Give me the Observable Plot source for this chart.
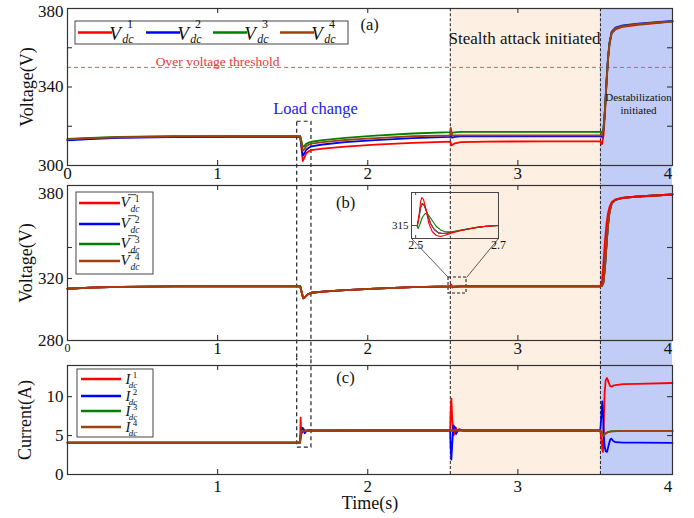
<!DOCTYPE html>
<html><head><meta charset="utf-8">
<script src="https://cdn.jsdelivr.net/npm/d3@7"></script>
<script src="https://cdn.jsdelivr.net/npm/@observablehq/plot@0.6"></script>
<style>
body{margin:0;background:#fff}
#chart{position:relative;width:694px;height:518px;overflow:hidden;background:#fff}
#chart svg{display:block}
#chart svg, #chart svg text{font-family:"Liberation Serif","DejaVu Serif",serif !important}
</style></head><body><div id="chart"></div>
<script>
// ---------- data ----------
const seriesColors = ["#ff0000", "#0000ff", "#008000", "#a0400f"];
const seriesIdx = ["1", "2", "3", "4"];
const xTicks = [0, 1, 2, 3, 4];
const tAttack = 2.55, tDestab = 3.55, tEnd = 4.03;
const loadBox = [1.53, 1.625];
const threshold = 350;

// panel (a): V_dc^i  [time, voltage]
const aV1 = [[0,313.2],[0.15,313.8],[0.35,314.3],[0.7,314.6],[1.2,314.7],[1.55,314.7],[1.56,308],[1.567,302.3],[1.575,303.5],[1.59,306.2],[1.61,307.4],[1.625,307.8],[1.7,308.6],[1.85,309.6],[2.05,310.6],[2.3,311.5],[2.549,312.2],[2.553,311.5],[2.558,310.3],[2.565,310.6],[2.58,311.3],[2.62,311.9],[2.8,312.2],[3.2,312.3],[3.549,312.3],[3.56,310.8],[3.57,315],[3.58,326],[3.59,341],[3.6,353.5],[3.61,361.5],[3.625,367.3],[3.65,369.4],[3.7,370.7],[3.8,371.7],[4.03,373.3]];
const aV2 = [[0,312.8],[0.15,313.5],[0.35,314.1],[0.7,314.5],[1.2,314.6],[1.55,314.6],[1.56,309],[1.567,305],[1.575,305.8],[1.59,308],[1.61,309.2],[1.625,309.7],[1.7,310.7],[1.85,311.9],[2.05,312.9],[2.3,313.9],[2.549,314.6],[2.553,315.5],[2.558,314.3],[2.565,314.2],[2.58,314.6],[2.62,314.8],[2.8,314.9],[3.2,314.9],[3.549,314.9],[3.56,314.6],[3.57,318.2],[3.58,328.5],[3.59,342.5],[3.6,354.5],[3.61,362.5],[3.625,368.2],[3.65,370.2],[3.7,371.4],[3.8,372.3],[4.03,373.7]];
const aV3 = [[0,313.6],[0.15,314.1],[0.35,314.6],[0.7,314.9],[1.2,315.0],[1.55,315.0],[1.56,312],[1.567,309.5],[1.575,309.8],[1.59,311],[1.61,311.8],[1.625,312.1],[1.7,312.9],[1.85,314.1],[2.05,315.2],[2.3,316.3],[2.549,317.0],[2.553,317.6],[2.558,316.6],[2.565,316.7],[2.58,316.9],[2.62,317.1],[2.8,317.1],[3.2,317.1],[3.549,317.1],[3.56,316.8],[3.57,318.5],[3.58,328],[3.59,342],[3.6,354],[3.61,362],[3.625,367.8],[3.65,369.8],[3.7,371.0],[3.8,372.0],[4.03,373.4]];
const aV4 = [[0,313.3],[0.15,313.9],[0.35,314.4],[0.7,314.8],[1.2,314.9],[1.55,314.9],[1.56,310.5],[1.567,307.5],[1.575,308],[1.59,309.8],[1.61,310.7],[1.625,311.1],[1.7,311.9],[1.85,313],[2.05,314],[2.3,314.9],[2.549,315.4],[2.553,319.2],[2.558,316.8],[2.565,315.2],[2.58,315.3],[2.62,315.4],[2.8,315.4],[3.2,315.4],[3.549,315.4],[3.56,315.3],[3.57,318],[3.58,328],[3.59,342],[3.6,354],[3.61,362],[3.625,367.8],[3.65,369.8],[3.7,371.0],[3.8,372.0],[4.03,373.4]];

// panel (b): average voltage estimates
const bV1 = [[0,313.4],[0.15,314.1],[0.35,314.6],[0.7,314.9],[1.2,315.0],[1.55,315.0],[1.56,311],[1.57,307.2],[1.58,307.8],[1.6,309.8],[1.625,310.8],[1.7,311.5],[1.85,312.5],[2.05,313.5],[2.3,314.4],[2.549,314.9],[2.554,316.3],[2.565,314.2],[2.58,314.6],[2.62,314.9],[2.8,315.0],[3.2,315.0],[3.549,315.0],[3.56,318],[3.57,330],[3.58,344],[3.59,355],[3.6,362],[3.61,366],[3.625,369.3],[3.65,371],[3.7,372.1],[3.8,372.9],[4.03,374.2]];
const bV2 = [[0,313.4],[0.15,314.1],[0.35,314.6],[0.7,314.9],[1.2,315.0],[1.55,315.0],[1.56,311],[1.57,307.2],[1.58,307.8],[1.6,309.8],[1.625,310.8],[1.7,311.5],[1.85,312.5],[2.05,313.5],[2.3,314.4],[2.549,314.9],[2.554,315.4],[2.565,314.6],[2.58,314.7],[2.62,314.9],[2.8,315.0],[3.2,315.0],[3.549,315.0],[3.56,315.2],[3.57,317.5],[3.58,327],[3.59,341],[3.6,354],[3.61,362.5],[3.625,368.5],[3.65,370.8],[3.7,372.0],[3.8,372.9],[4.03,374.2]];
const bV3 = [[0,313.4],[0.15,314.1],[0.35,314.6],[0.7,314.9],[1.2,315.0],[1.55,315.0],[1.56,311],[1.57,307.2],[1.58,307.8],[1.6,309.8],[1.625,310.8],[1.7,311.5],[1.85,312.5],[2.05,313.5],[2.3,314.4],[2.549,314.9],[2.554,315.2],[2.565,314.7],[2.58,314.7],[2.62,314.9],[2.8,315.0],[3.2,315.0],[3.549,315.0],[3.56,315.2],[3.57,317.5],[3.58,327],[3.59,341],[3.6,354],[3.61,362.5],[3.625,368.5],[3.65,370.8],[3.7,372.0],[3.8,372.9],[4.03,374.2]];
const bV4 = [[0,313.4],[0.15,314.1],[0.35,314.6],[0.7,314.9],[1.2,315.0],[1.55,315.0],[1.56,311],[1.57,307.2],[1.58,307.8],[1.6,309.8],[1.625,310.8],[1.7,311.5],[1.85,312.5],[2.05,313.5],[2.3,314.4],[2.549,314.9],[2.554,315.4],[2.565,314.6],[2.58,314.7],[2.62,314.9],[2.8,315.0],[3.2,315.0],[3.549,315.0],[3.56,315.2],[3.57,317.5],[3.58,327],[3.59,341],[3.6,354],[3.61,362.5],[3.625,368.5],[3.65,370.8],[3.7,372.0],[3.8,372.9],[4.03,374.2]];

// inset of panel (b)
const inV1 = [[2.49,315.0],[2.504,315.0],[2.508,315.5],[2.512,316.2],[2.515,316.4],[2.519,316.3],[2.525,315.8],[2.532,315.1],[2.54,314.7],[2.55,314.5],[2.56,314.45],[2.57,314.5],[2.585,314.62],[2.61,314.75],[2.64,314.88],[2.67,314.96],[2.70,315.0]];
const inV2 = [[2.49,315.0],[2.504,315.0],[2.508,315.4],[2.512,315.9],[2.516,316.1],[2.521,316.0],[2.528,315.6],[2.536,315.1],[2.545,314.8],[2.555,314.63],[2.565,314.6],[2.575,314.62],[2.585,314.65],[2.61,314.76],[2.64,314.88],[2.67,314.96],[2.70,315.0]];
const inV3 = [[2.49,315.0],[2.503,315.0],[2.506,314.85],[2.51,315.05],[2.516,315.4],[2.523,315.6],[2.53,315.55],[2.54,315.25],[2.55,314.95],[2.56,314.78],[2.57,314.7],[2.585,314.67],[2.61,314.77],[2.64,314.88],[2.67,314.96],[2.70,315.0]];
const inV4 = [[2.49,315.0],[2.504,315.0],[2.508,315.4],[2.512,315.9],[2.516,316.1],[2.521,316.0],[2.528,315.6],[2.536,315.1],[2.545,314.8],[2.555,314.63],[2.565,314.6],[2.575,314.62],[2.585,314.65],[2.61,314.76],[2.64,314.88],[2.67,314.96],[2.70,315.0]];

// panel (c): currents
const cI1 = [[0,4.1],[1.549,4.1],[1.553,7.3],[1.557,5.0],[1.561,5.9],[1.566,5.4],[1.572,5.7],[1.6,5.65],[2.0,5.65],[2.549,5.65],[2.552,8.0],[2.557,9.75],[2.563,7.0],[2.57,5.0],[2.58,5.3],[2.588,6.0],[2.596,5.5],[2.61,5.8],[2.63,5.65],[3.549,5.65],[3.556,4.5],[3.562,3.3],[3.567,2.9],[3.572,6.5],[3.578,10.5],[3.585,12.1],[3.594,12.4],[3.605,11.8],[3.615,11.35],[3.628,11.3],[3.64,11.45],[3.7,11.6],[3.8,11.65],[4.03,11.75]];
const cI2 = [[0,4.1],[1.549,4.1],[1.553,4.8],[1.558,5.3],[1.566,6.0],[1.574,5.8],[1.58,5.3],[1.588,5.5],[1.6,5.7],[1.62,5.65],[2.549,5.65],[2.552,3.5],[2.557,1.9],[2.563,4.0],[2.57,6.3],[2.58,6.1],[2.588,5.2],[2.596,5.5],[2.61,5.8],[2.63,5.65],[3.549,5.65],[3.556,7.5],[3.562,9.4],[3.567,8.0],[3.572,5.0],[3.578,3.6],[3.585,3.0],[3.594,2.9],[3.605,3.8],[3.615,4.5],[3.622,4.6],[3.635,4.3],[3.65,4.15],[3.7,4.1],[3.8,4.1],[4.03,4.05]];
const cI3 = [[0,4.1],[1.549,4.1],[1.556,5.6],[2.0,5.65],[3.549,5.65],[3.56,5.3],[3.57,5.0],[3.58,5.2],[3.6,5.45],[3.62,5.55],[3.7,5.6],[4.03,5.6]];
const cI4 = [[0,4.1],[1.549,4.1],[1.556,5.6],[2.0,5.65],[3.549,5.65],[3.56,5.3],[3.57,5.0],[3.58,5.2],[3.6,5.45],[3.62,5.55],[3.7,5.6],[4.03,5.6]];

// annotation anchors (data units)
const insetBox = {t1: 2.2915, t2: 2.871, v1: 345.8, v2: 375.5};
const zoomBox = {t1: 2.538, t2: 2.658, v1: 310.3, v2: 320.6};

// ---------- drawing ----------
const FONT = '"Liberation Serif","DejaVu Serif",serif';
const W = 694, ML = 67, MR = 22;
const FW = W - ML - MR;
const PEACH = "#fdf0e2", BLUE = "#c1cdf6";
const svgStyle = {fontFamily: FONT, background: "transparent", overflow: "hidden", color: "#111"};

function spans(lo, hi) {
  return [
    Plot.rect([0], {x1: () => tAttack, x2: () => tDestab, y1: () => lo, y2: () => hi, fill: PEACH}),
    Plot.rect([0], {x1: () => tDestab, x2: () => tEnd, y1: () => lo, y2: () => hi, fill: BLUE}),
    Plot.ruleX([tAttack, tDestab], {x: d => d, y1: () => lo, y2: () => hi, stroke: "#222", strokeDasharray: "3,2", strokeWidth: 1})
  ];
}
function loadRect(lo, hi) {
  return Plot.rect([loadBox], {x1: d => d[0], x2: d => d[1], y1: () => lo, y2: () => hi, fill: "none", stroke: "#222", strokeDasharray: "4,3", strokeWidth: 1.2});
}
function seriesLines(list, w = 1.8) {
  return list.map((s, i) => Plot.line(s, {x: d => d[0], y: d => d[1], stroke: seriesColors[i], strokeWidth: w}));
}
function innerTicks(xs, ys, fh) {
  const o = {stroke: "#333", strokeWidth: 1.1};
  return [
    Plot.tickX(xs, {x: d => d, insetTop: fh - 5, ...o}),
    Plot.tickX(xs, {x: d => d, insetBottom: fh - 5, ...o}),
    Plot.tickY(ys, {y: d => d, insetRight: FW - 5, ...o}),
    Plot.tickY(ys, {y: d => d, insetLeft: FW - 5, ...o})
  ];
}
function yTitle(label, dx) {
  return Plot.text([label], {text: d => d, frameAnchor: "left", textAnchor: "middle", lineAnchor: "middle", dx, rotate: -90, fontSize: 18});
}
function yLabels(ticks, dy = 0) {
  return Plot.axisY({ticks, tickSize: 0, tickPadding: 4, fontSize: 17, label: null, dy, tickFormat: d => String(d)});
}
function mathLabel(g, x, y, o) {
  g.append("text").attr("x", x).attr("y", y).attr("font-family", FONT).attr("font-style", "italic")
    .attr("font-size", o.size).text(o.base);
  if (o.bar) g.append("line").attr("x1", x + o.size * 0.2).attr("x2", x + o.size * 0.75)
    .attr("y1", y - o.size * 0.82).attr("y2", y - o.size * 0.82).attr("stroke", "#111").attr("stroke-width", 0.8);
  g.append("text").attr("x", x + o.supDx).attr("y", y + o.supDy).attr("font-family", FONT)
    .attr("font-size", o.small).text(o.sup);
  g.append("text").attr("x", x + o.subDx).attr("y", y + o.subDy).attr("font-family", FONT).attr("font-style", "italic")
    .attr("font-size", o.small).text(o.sub);
}
function legendMark(box, items, lab) {
  return () => {
    const g = d3.create("svg:g");
    g.append("rect").attr("x", box.x).attr("y", box.y).attr("width", box.w).attr("height", box.h)
      .attr("fill", "white").attr("stroke", "#444").attr("stroke-width", 1);
    items.forEach((it, i) => {
      g.append("line").attr("x1", it.x1).attr("x2", it.x2).attr("y1", it.y).attr("y2", it.y)
        .attr("stroke", seriesColors[i]).attr("stroke-width", 2.6);
      mathLabel(g, it.lx, it.ly, {...lab, sup: seriesIdx[i]});
    });
    return g.node();
  };
}

// panel (a)
const hA = 184, mtA = 8, mbA = 19, fhA = hA - mtA - mbA;
const legA = legendMark({x: 75, y: 21, w: 273, h: 23},
  [78, 146, 213, 280].map(x => ({x1: x, x2: x + 34, y: 32.5, lx: x + 37, ly: 40})),
  {base: "V", sub: "dc", size: 19, small: 12, supDx: 15, supDy: -12, subDx: 13, subDy: 3});
const A = Plot.plot({
  width: W, height: hA, marginLeft: ML, marginRight: MR, marginTop: mtA, marginBottom: mbA,
  x: {domain: [0, tEnd]}, y: {domain: [300, 380]}, style: svgStyle,
  marks: [
    ...spans(200, 380),
    Plot.ruleY([threshold], {y: d => d, stroke: "#e2585c", strokeDasharray: "4,3", strokeWidth: 1}),
    loadRect(322.3, 200),
    ...seriesLines([aV1, aV2, aV3, aV4]),
    Plot.frame({stroke: "#333", strokeWidth: 1.2}),
    ...innerTicks([1, 2, 3], [320, 340, 360], fhA),
    Plot.axisX({ticks: xTicks, tickSize: 0, tickPadding: 1, fontSize: 17, label: null, tickFormat: d => String(d)}),
    yLabels([300, 340]),
    yLabels([380], 3),
    yTitle("Voltage(V)", -40),
    Plot.text([{t: 1.0, v: 352.8, s: "Over voltage threshold"}], {x: "t", y: "v", text: "s", fill: "#e33a3a", fontSize: 13.5}),
    Plot.text([{t: 1.652, v: 328.7, s: "Load change"}], {x: "t", y: "v", text: "s", fill: "#2222ee", fontSize: 16.5}),
    Plot.text([{t: 3.044, v: 364.6, s: "Stealth attack initiated"}], {x: "t", y: "v", text: "s", fill: "#111", fontSize: 17}),
    Plot.text([{t: 3.804, v: 331.5, s: "Destabilization\ninitiated"}], {x: "t", y: "v", text: "s", fill: "#111", fontSize: 11, lineHeight: 1.15}),
    Plot.text([{t: 2.012, v: 371.8, s: "(a)"}], {x: "t", y: "v", text: "s", fill: "#111", fontSize: 16.5}),
    legA
  ]
});

// panel (b)
const hB = 174, mtB = 1, mbB = 18, fhB = hB - mtB - mbB, offB = hA;
const legB = legendMark({x: 76, y: 192 - offB, w: 77, h: 82},
  [203, 224, 244, 261].map(y => ({x1: 79, x2: 120, y: y - offB, lx: 125, ly: y - offB + 4})),
  {base: "V", bar: true, sub: "dc", size: 15, small: 9.5, supDx: 12, supDy: -5, subDx: 10, subDy: 5});
const B = Plot.plot({
  width: W, height: hB, marginLeft: ML, marginRight: MR, marginTop: mtB, marginBottom: mbB,
  x: {domain: [0, tEnd]}, y: {domain: [280, 380]}, style: svgStyle,
  marks: [
    ...spans(100, 500),
    loadRect(100, 500),
    Plot.rect([zoomBox], {x1: "t1", x2: "t2", y1: "v1", y2: "v2", fill: "none", stroke: "#222", strokeDasharray: "3,2", strokeWidth: 1.1}),
    Plot.link([[insetBox.t1, zoomBox.t1], [insetBox.t2, zoomBox.t2]], {x1: d => d[0], y1: () => insetBox.v1, x2: d => d[1], y2: () => zoomBox.v2, stroke: "#333", strokeWidth: 0.8}),
    ...seriesLines([bV1, bV2, bV3, bV4]).slice(1),
    ...seriesLines([bV1]),
    Plot.line(bV4.filter(d => d[0] < 3.555), {x: d => d[0], y: d => d[1], stroke: seriesColors[3], strokeWidth: 1.8}),
    Plot.frame({stroke: "#333", strokeWidth: 1.2}),
    ...innerTicks([1, 2, 3], [320, 340], fhB),
    Plot.axisX({ticks: [1, 2, 3, 4], tickSize: 0, tickPadding: 1.5, fontSize: 17, label: null, tickFormat: d => String(d)}),
    Plot.axisX({ticks: [0], tickSize: 0, tickPadding: 3, fontSize: 12, label: null, tickFormat: d => String(d)}),
    yLabels([280, 320]),
    yLabels([380], 8),
    yTitle("Voltage(V)", -41),
    Plot.text([{t: 1.852, v: 369.0, s: "(b)"}], {x: "t", y: "v", text: "s", fill: "#111", fontSize: 16.5}),
    legB
  ]
});

// panel (c)
const hC = 160, mtC = 7, mbC = 44, fhC = hC - mtC - mbC, offC = hA + hB;
const legC = legendMark({x: 77, y: 369 - offC, w: 76, h: 68},
  [379, 396, 411, 427].map(y => ({x1: 81, x2: 121, y: y - offC, lx: 128, ly: y - offC + 5})),
  {base: "I", sub: "dc", size: 14.5, small: 9, supDx: 7, supDy: -6, subDx: 5, subDy: 4});
const C = Plot.plot({
  width: W, height: hC, marginLeft: ML, marginRight: MR, marginTop: mtC, marginBottom: mbC,
  x: {domain: [0, tEnd]}, y: {domain: [0, 14]}, style: svgStyle,
  marks: [
    ...spans(0, 30),
    loadRect(30, 3.46),
    ...seriesLines([cI1, cI2, cI3, cI4]),
    Plot.frame({stroke: "#333", strokeWidth: 1.2}),
    ...innerTicks([1, 2, 3], [5, 10], fhC),
    Plot.axisX({ticks: [1, 2, 3, 4], tickSize: 0, tickPadding: 5, fontSize: 17, label: null, tickFormat: d => String(d)}),
    yLabels([0, 5, 10]),
    yTitle("Current(A)", -42),
    Plot.text(["Time(s)"], {text: d => d, frameAnchor: "bottom", textAnchor: "middle", lineAnchor: "middle", dy: 29, fontSize: 18}),
    Plot.text([{t: 1.852, v: 12.44, s: "(c)"}], {x: "t", y: "v", text: "s", fill: "#111", fontSize: 16.5}),
    legC
  ]
});

const chart = document.getElementById("chart");
chart.append(A, B, C);

// inset positioned through panel (b) scales
const bx = B.scale("x"), by = B.scale("y");
const iL = bx.apply(insetBox.t1), iR = bx.apply(insetBox.t2), iT = by.apply(insetBox.v2), iB = by.apply(insetBox.v1);
const imL = 22, imR = 10, imT = 2, imB = 16;
const ifw = iR - iL, ifh = iB - iT;
const inset = Plot.plot({
  width: ifw + imL + imR, height: ifh + imT + imB,
  marginLeft: imL, marginRight: imR, marginTop: imT, marginBottom: imB,
  x: {domain: [2.49, 2.70]}, y: {domain: [314.35, 316.65]},
  style: {...svgStyle, overflow: "visible"},
  marks: [
    ...[inV2, inV3, inV4, inV1].map((s, k) => Plot.line(s, {x: d => d[0], y: d => d[1], stroke: seriesColors[[1, 2, 3, 0][k]], strokeWidth: 1.1})),
    Plot.frame({stroke: "#444", strokeWidth: 1}),
    Plot.tickX([2.5, 2.7], {x: d => d, insetTop: ifh - 3, stroke: "#444"}),
    Plot.tickX([2.5, 2.7], {x: d => d, insetBottom: ifh - 3, stroke: "#444"}),
    Plot.tickY([315], {y: d => d, insetRight: ifw - 3, stroke: "#444"}),
    Plot.axisX({ticks: [2.5, 2.7], tickSize: 0, tickPadding: 2, fontSize: 12, label: null, tickFormat: d => String(d)}),
    Plot.axisY({ticks: [315], tickSize: 0, tickPadding: 3, fontSize: 11, label: null, tickFormat: d => String(d)})
  ]
});
inset.style.position = "absolute";
inset.style.left = (iL - imL) + "px";
inset.style.top = (offB + iT - imT) + "px";
chart.append(inset);
</script>
</body></html>
